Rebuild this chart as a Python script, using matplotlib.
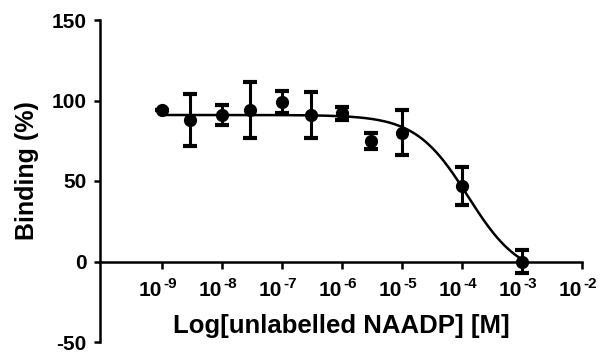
import numpy as np
import matplotlib
matplotlib.use("Agg")
import matplotlib.pyplot as plt

plt.rcParams['font.family'] = ['Liberation Sans', 'DejaVu Sans']
plt.rcParams['font.weight'] = 'bold'
plt.rcParams['axes.unicode_minus'] = False

# data
conc = [1e-9, 3e-9, 1e-8, 3e-8, 1e-7, 3e-7, 1e-6, 3e-6, 1e-5, 1e-4, 1e-3]
binding = [94, 88, 91, 94, 99, 91, 92, 75, 80, 47, 0]
sem = [0, 16, 6, 17.5, 7, 14.5, 4, 5, 14, 12, 7]

# fitted curve parameters (one-site competition)
top, bottom, log_ic50, hill = 91, -10, -3.9, 1.0

exponents = list(range(-9, -1))
tick_pos = [10.0 ** e for e in exponents]

fig = plt.figure(figsize=(6.06, 3.53), dpi=100)
ax = fig.add_axes([100 / 606, 11 / 353, 482 / 606, 322 / 353])

xs = np.logspace(-9, -3, 300)
ys = bottom + (top - bottom) / (1 + 10 ** ((np.log10(xs) - log_ic50) * hill))
ax.plot(xs, ys, color='black', lw=1.8)
ax.errorbar(conc, binding, yerr=sem, fmt='o', color='black', ms=8.5,
            elinewidth=2.2, capsize=5, capthick=3)

ax.set_xscale('log')
ax.set_xlim(10 ** -10.03, 1e-2)
ax.set_ylim(-50, 150)
ax.set_yticks([-50, 0, 50, 100, 150])
ax.set_xticks(tick_pos)
ax.set_xticklabels([''] * len(tick_pos))
ax.xaxis.set_minor_locator(matplotlib.ticker.NullLocator())

# tick labels as "10" with a raised exponent
for p, e in zip(tick_pos, exponents):
    ax.annotate('10', xy=(p, 0), xytext=(0, -25.2), textcoords='offset points',
                ha='right', va='baseline', fontsize=15, fontweight='bold',
                annotation_clip=False)
    ax.annotate(str(e), xy=(p, 0), xytext=(1.2, -19.4), textcoords='offset points',
                ha='left', va='baseline', fontsize=11, fontweight='bold',
                annotation_clip=False)

for s in ['top', 'right']:
    ax.spines[s].set_visible(False)
ax.spines['bottom'].set_position(('data', 0))
for s in ['left', 'bottom']:
    ax.spines[s].set_linewidth(1.8)
ax.tick_params(axis='both', width=1.8, length=4.5, labelsize=15, pad=5)
ax.tick_params(axis='x', length=5)

for lab in ax.get_yticklabels():
    lab.set_fontweight('bold')

ax.set_xlabel('Log[unlabelled NAADP] [M]', fontsize=18.5, fontweight='bold', va='baseline')
ax.set_ylabel('Binding (%)', fontsize=18, fontweight='bold', va='center')
ax.xaxis.set_label_coords((341 - 100) / 482, (342 - 333) / 322)
ax.yaxis.set_label_coords((27 - 100) / 482, (342 - 171) / 322)

fig.savefig('out.png', dpi=100)
